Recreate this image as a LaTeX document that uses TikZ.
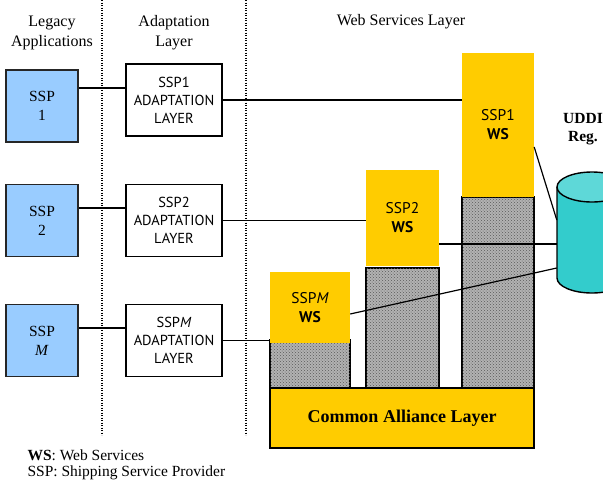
\documentclass[tikz,border=0pt]{standalone}
\usepackage{fontspec}
\setmainfont{Liberation Serif}
\newfontfamily\boxfont{PT Sans}
\usetikzlibrary{positioning,patterns}

\definecolor{legblue}{HTML}{99CCFF}
\definecolor{wsyellow}{HTML}{FFCC00}
\definecolor{uddicyan}{HTML}{33CCCC}
\definecolor{uddilight}{HTML}{5ED8D8}

\tikzset{
  legacy/.style={draw=black!85, line width=1.4pt, fill=legblue, minimum width=72pt,
    minimum height=72pt, inner sep=0pt, align=center, font=\fontsize{15.5}{19}\selectfont},
  adapt/.style={draw, line width=1.4pt, fill=white, minimum width=96pt, minimum height=72pt,
    inner sep=0pt, align=center, font=\boxfont\fontsize{14.5}{18}\selectfont},
  ws/.style={fill=wsyellow, inner sep=0pt, align=center, font=\boxfont\fontsize{15.5}{19}\selectfont},
  column/.style={draw, line width=1.4pt, fill=gray!60,
    postaction={pattern=crosshatch dots, pattern color=gray!70!black}},
  link/.style={line width=1.2pt},
  header/.style={align=center, font=\fontsize{16}{20}\selectfont},
}

\begin{document}
\begin{tikzpicture}[x=1pt, y=-1pt]
		\useasboundingbox (0,0) rectangle (603,483);
		% 三列之间的虚线
		\foreach \x in {102, 246} {
				\draw[line width=1.2pt, dash pattern=on 1.2pt off 1.3pt] (\x, 0) -- (\x, 435);
			}
		% 列标题
		\node[header] (hleg) at (52, 33) {Legacy\\Applications};
		\node[header] (hada) at (174, 33) {Adaptation\\Layer};
		\node[header] (hws) at (401, 22) {Web Services Layer};
		% 灰色的柱子
		\draw[column] (462, 197) rectangle (534, 388);
		\draw[column] (366, 268) rectangle (439, 388);
		\draw[column] (270, 340) rectangle (350, 388);
		% Web Services 方块
		\node[ws, minimum width=72pt, minimum height=144pt] (ws1) at (498, 125) {SSP1\\\textbf{WS}};
		\node[ws, minimum width=73pt, minimum height=96pt] (ws2) at (402.5, 218) {SSP2\\\textbf{WS}};
		\node[ws, minimum width=80pt, minimum height=71pt] (wsm) at (310, 307.5) {SSP\textit{M}\\\textbf{WS}};
		% 底层
		\node[draw, line width=1.4pt, fill=wsyellow, minimum width=264pt, minimum height=60pt,
			font=\bfseries\fontsize{18}{20}\selectfont] (cal) at (402, 418) {Common Alliance Layer};
		% 旧系统和适配层
		\node[legacy] (leg1) at (42, 106) {SSP\\1};
		\node[legacy] (leg2) at (42, 220.5) {SSP\\2};
		\node[legacy] (legm) at (42, 340.5) {SSP\\\textit{M}};
		\node[adapt] (ada1) at (174, 100) {SSP1\\ADAPTATION\\LAYER};
		\node[adapt] (ada2) at (174, 220.5) {SSP2\\ADAPTATION\\LAYER};
		\node[adapt] (adam) at (174, 340.5) {SSP\textit{M}\\ADAPTATION\\LAYER};
		% UDDI 注册中心 (圆柱)
		\node[minimum width=70pt, minimum height=121pt, inner sep=0pt] (uddi) at (592, 232.5) {};
		\draw[line width=1.4pt, fill=uddicyan] (557, 187) -- (557, 278)
			arc[start angle=180, end angle=0, x radius=35, y radius=15] -- (627, 187);
		\draw[line width=1.4pt, fill=uddilight] (592, 187) ellipse[x radius=35, y radius=15];
		\node[align=center, font=\bfseries\fontsize{15.5}{18}\selectfont] (reg) at (583, 129) {UDDI\\Reg.};
		% 连线
		\draw[link] ([yshift=18pt]leg1.east) -- ([yshift=18pt]leg1.east -| ada1.west);
		\draw[link] ([yshift=12.5pt]leg2.east) -- ([yshift=12.5pt]leg2.east -| ada2.west);
		\draw[link] ([yshift=12.5pt]legm.east) -- ([yshift=12.5pt]legm.east -| adam.west);
		\draw[link] (ada1.east) -- (ada1.east -| ws1.west);
		\draw[link] (ada2.east) -- (ada2.east -| ws2.west);
		\draw[link] (adam.east) -- (adam.east -| wsm.west);
		\draw[link] ([yshift=-22pt]ws1.east) -- ([yshift=12.5pt]uddi.west);
		\draw[link] ([yshift=-26pt]ws2.east) -- ([yshift=-26pt]ws2.east -| uddi.west);
		\draw[link] ([yshift=-6.5pt]wsm.east) -- ([yshift=-35.5pt]uddi.west);
		% 图例
		\node[anchor=west, font=\fontsize{15.5}{18}\selectfont] (lg1) at (24, 455) {\textbf{WS}: Web Services};
		\node[anchor=west, font=\fontsize{15.5}{18}\selectfont] (lg2) at (24, 473) {SSP: Shipping Service Provider};
	\end{tikzpicture}
\end{document}
